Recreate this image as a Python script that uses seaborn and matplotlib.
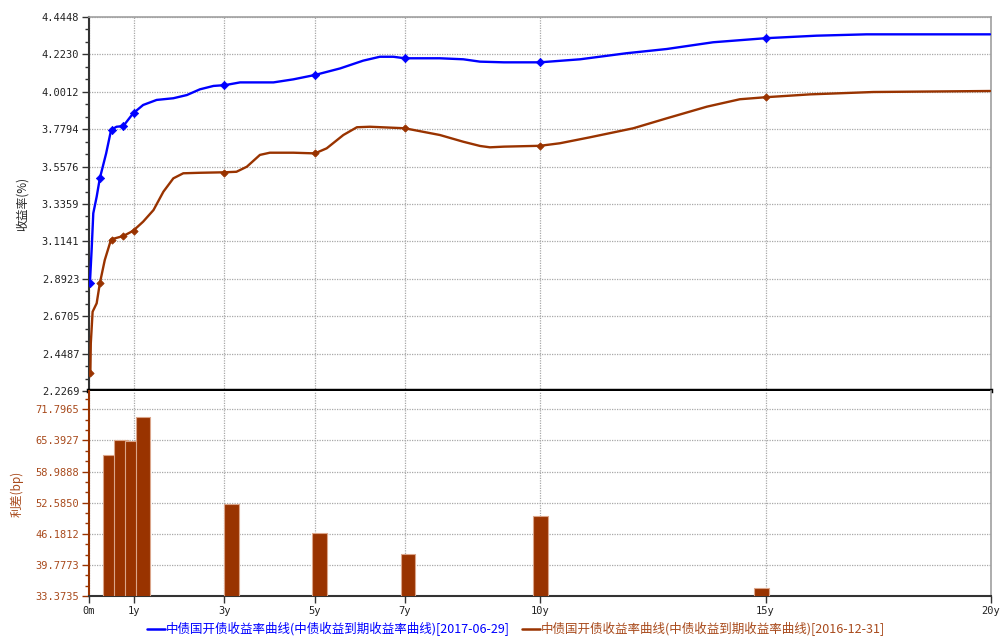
import numpy as np
import pandas as pd
import matplotlib
matplotlib.use("Agg")
import matplotlib.pyplot as plt
from matplotlib.lines import Line2D
from matplotlib.ticker import FixedLocator
import seaborn as sns

# ---------------- data ----------------
# curve 2017-06-29 (blue): tenor in years, yield in %
blue_t = [0.02, 0.06, 0.095, 0.17, 0.24, 0.38, 0.49, 0.61, 0.76, 0.98, 1.2, 1.5, 1.87,
          2.17, 2.46, 2.76, 3.02, 3.35, 3.57, 4.09, 4.53, 5.01, 5.57, 6.08, 6.45, 6.75,
          7.0, 7.78, 8.3, 8.67, 9.2, 10.0, 10.89, 11.92, 12.81, 13.84, 15.0, 16.13,
          17.24, 19.98]
blue_y = [2.865, 3.073, 3.281, 3.379, 3.488, 3.636, 3.775, 3.794, 3.798, 3.874, 3.923,
          3.953, 3.963, 3.982, 4.016, 4.036, 4.041, 4.057, 4.057, 4.057, 4.075, 4.101,
          4.140, 4.186, 4.209, 4.209, 4.200, 4.200, 4.194, 4.180, 4.176, 4.176, 4.194,
          4.230, 4.255, 4.295, 4.319, 4.334, 4.342, 4.342]
# curve 2016-12-31 (brown)
brown_t = [0.03, 0.04, 0.08, 0.17, 0.24, 0.35, 0.49, 0.76, 0.98, 1.2, 1.43, 1.65, 1.87,
           2.09, 2.46, 3.02, 3.27, 3.5, 3.79, 4.01, 4.53, 5.01, 5.27, 5.64, 5.94, 6.23,
           7.0, 7.78, 8.3, 8.67, 8.89, 9.2, 10.0, 10.44, 11.1, 12.07, 12.81, 13.7,
           14.43, 15.0, 15.99, 17.39, 19.98]
brown_y = [2.332, 2.510, 2.697, 2.747, 2.865, 3.004, 3.126, 3.146, 3.177, 3.231, 3.300,
           3.409, 3.488, 3.518, 3.521, 3.524, 3.527, 3.557, 3.627, 3.640, 3.640, 3.636,
           3.666, 3.745, 3.791, 3.794, 3.785, 3.745, 3.705, 3.680, 3.672, 3.676, 3.681,
           3.696, 3.731, 3.785, 3.844, 3.913, 3.957, 3.969, 3.986, 4.000, 4.006]
# key tenors with markers
key_t = [0.03, 0.25, 0.5, 0.75, 1, 3, 5, 7, 10, 15]
key_blue = [2.866, 3.488, 3.775, 3.796, 3.874, 4.041, 4.101, 4.200, 4.176, 4.319]
key_brown = [2.332, 2.865, 3.124, 3.146, 3.177, 3.522, 3.636, 3.785, 3.681, 3.969]
# spread bars (bp)
bar_t = [0.25, 0.5, 0.75, 1, 3, 5, 7, 10, 15]
bar_v = [62.3, 65.5, 65.3, 70.2, 52.4, 46.3, 42.0, 49.8, 35.1]

x_ticks = [0, 1, 3, 5, 7, 10, 15, 20]
x_labels = ["0m", "1y", "3y", "5y", "7y", "10y", "15y", "20y"]
top_ticks = [2.2269, 2.4487, 2.6705, 2.8923, 3.1141, 3.3359, 3.5576, 3.7794, 4.0012, 4.2230, 4.4448]
top_labels = ["2.2269", "2.4487", "2.6705", "2.8923", "3.1141", "3.3359", "3.5576",
              "3.7794", "4.0012", "4.2230", "4.4448"]
bot_ticks = [33.3735, 39.7773, 46.1812, 52.5850, 58.9888, 65.3927, 71.7965]
bot_labels = ["33.3735", "39.7773", "46.1812", "52.5850", "58.9888", "65.3927", "71.7965"]

label_blue = "中债国开债收益率曲线(中债收益到期收益率曲线)[2017-06-29]"
label_brown = "中债国开债收益率曲线(中债收益到期收益率曲线)[2016-12-31]"

BLUE = "#0000ff"
BROWN = "#993300"
BROWN_TXT = "#a84a1c"
GRID = "#a8a8a8"

sns.set_theme(style="white")
plt.rcParams["font.family"] = ["Noto Sans CJK SC", "DejaVu Sans"]

fig = plt.figure(figsize=(10, 6.37), dpi=100)
W, H = 1000, 637
L, R = 89, 991
ax1 = fig.add_axes([L / W, 1 - 391 / H, (R - L) / W, (391 - 17) / H])
ax2 = fig.add_axes([L / W, 1 - 596 / H, (R - L) / W, (596 - 391) / H])

df_b = pd.DataFrame({"t": blue_t, "y": blue_y})
df_r = pd.DataFrame({"t": brown_t, "y": brown_y})
df_k = pd.DataFrame({"t": key_t, "b": key_blue, "r": key_brown})

sns.lineplot(data=df_b, x="t", y="y", ax=ax1, color=BLUE, lw=1.7, sort=False,
             estimator=None, zorder=4)
sns.lineplot(data=df_r, x="t", y="y", ax=ax1, color=BROWN, lw=1.7, sort=False,
             estimator=None, zorder=4)
sns.scatterplot(data=df_k, x="t", y="b", ax=ax1, color=BLUE, marker="D", s=18,
                edgecolor=BLUE, linewidth=0.5, zorder=5)
sns.scatterplot(data=df_k, x="t", y="r", ax=ax1, color=BROWN, marker="D", s=14,
                edgecolor=BROWN, linewidth=0.5, zorder=5)

ax1.set_xlim(0, 20)
ax1.set_ylim(2.2269, 4.4448)
ax1.set_xticks(x_ticks)
ax1.set_xticklabels([])
ax1.tick_params(axis="x", length=0)
ax1.set_yticks(top_ticks)
ax1.set_yticklabels(top_labels)
minor_top = []
for a, b in zip(top_ticks[:-1], top_ticks[1:]):
    minor_top += [a + (b - a) / 3, a + 2 * (b - a) / 3]
ax1.yaxis.set_minor_locator(FixedLocator(minor_top))
ax1.tick_params(axis="y", which="major", left=True, length=5, width=1, color="#333333",
                labelsize=7.5, labelcolor="#222222", pad=2)
ax1.tick_params(axis="y", which="minor", left=True, length=3, width=1, color="#333333")
for lab in ax1.get_yticklabels():
    lab.set_family("DejaVu Sans Mono")
ax1.grid(True, which="major", color=GRID, linestyle=(0, (1, 1)), lw=0.9)
ax1.set_xlabel("")
ax1.set_ylabel("")
for s in ["top", "right"]:
    ax1.spines[s].set_color("#a0a0a0")
    ax1.spines[s].set_linewidth(1.2)
ax1.spines["left"].set_color("#333333")
ax1.spines["left"].set_linewidth(1.5)
ax1.spines["bottom"].set_color("black")
ax1.spines["bottom"].set_linewidth(3.2)
ax1.spines["bottom"].set_zorder(10)

# ---- bottom panel: spreads ----
ax2.set_xlim(0, 20)
ax2.set_ylim(33.3735, 75.56)
ax2.set_xticks(x_ticks)
ax2.set_xticklabels(x_labels)
ax2.set_yticks(bot_ticks)
ax2.set_yticklabels(bot_labels)
minor_bot = []
for a, b in zip(bot_ticks[:-1], bot_ticks[1:]):
    minor_bot += [a + (b - a) / 3, a + 2 * (b - a) / 3]
minor_bot += [bot_ticks[-1] + (bot_ticks[1] - bot_ticks[0]) / 3 * k for k in (1, 2)]
ax2.yaxis.set_minor_locator(FixedLocator(minor_bot))
ax2.tick_params(axis="y", which="major", left=True, length=5, width=1, color=BROWN,
                labelsize=7.5, labelcolor=BROWN_TXT, pad=2)
ax2.tick_params(axis="y", which="minor", left=True, length=3, width=1, color=BROWN)
ax2.tick_params(axis="x", which="major", bottom=True, length=5, width=1, color="#333333",
                labelsize=7.5, labelcolor="#222222", pad=2)
for lab in ax2.get_yticklabels() + ax2.get_xticklabels():
    lab.set_family("DejaVu Sans Mono")
ax2.grid(True, which="major", color=GRID, linestyle=(0, (1, 1)), lw=0.9)
ax2.spines["top"].set_visible(False)
ax2.spines["right"].set_color("#a0a0a0")
ax2.spines["right"].set_linewidth(1.2)
ax2.spines["left"].set_color(BROWN)
ax2.spines["left"].set_linewidth(1.5)
ax2.spines["bottom"].set_color("#333333")
ax2.spines["bottom"].set_linewidth(1.5)

# bars live on a twin x axis with half-bar padding at both ends
axb = ax2.twiny()
df_bar = pd.DataFrame({"t": bar_t, "v": bar_v})
sns.barplot(data=df_bar, x="t", y="v", ax=axb, native_scale=True, width=1.33,
            color=BROWN, saturation=1, edgecolor="#dba58a", linewidth=0.8, errorbar=None)
axb.set_xlim(-0.222, 20.2)
axb.set_ylim(33.3735, 75.56)
axb.set_xticks([])
axb.set_xlabel("")
axb.set_ylabel("")
for s in axb.spines.values():
    s.set_visible(False)
axb.tick_params(axis="both", length=0, labeltop=False, labelleft=False)

fig.text(22.5 / W, 1 - 204 / H, "收益率(%)", rotation=90, ha="center", va="center",
         fontsize=8.5, color="#222222")
fig.text(17.5 / W, 1 - 494 / H, "利差(bp)", rotation=90, ha="center", va="center",
         fontsize=8.5, color=BROWN_TXT)

handles = [Line2D([], [], color=BLUE, lw=1.8), Line2D([], [], color=BROWN, lw=1.8)]
fig.legend(handles, [label_blue, label_brown], loc="center",
           bbox_to_anchor=(0.516, 1 - 629 / H), ncol=2, frameon=False, fontsize=9,
           handlelength=1.45, handletextpad=0.1, columnspacing=0.9, borderaxespad=0,
           labelcolor=[BLUE, BROWN_TXT])

fig.savefig("out.png", dpi=100)
